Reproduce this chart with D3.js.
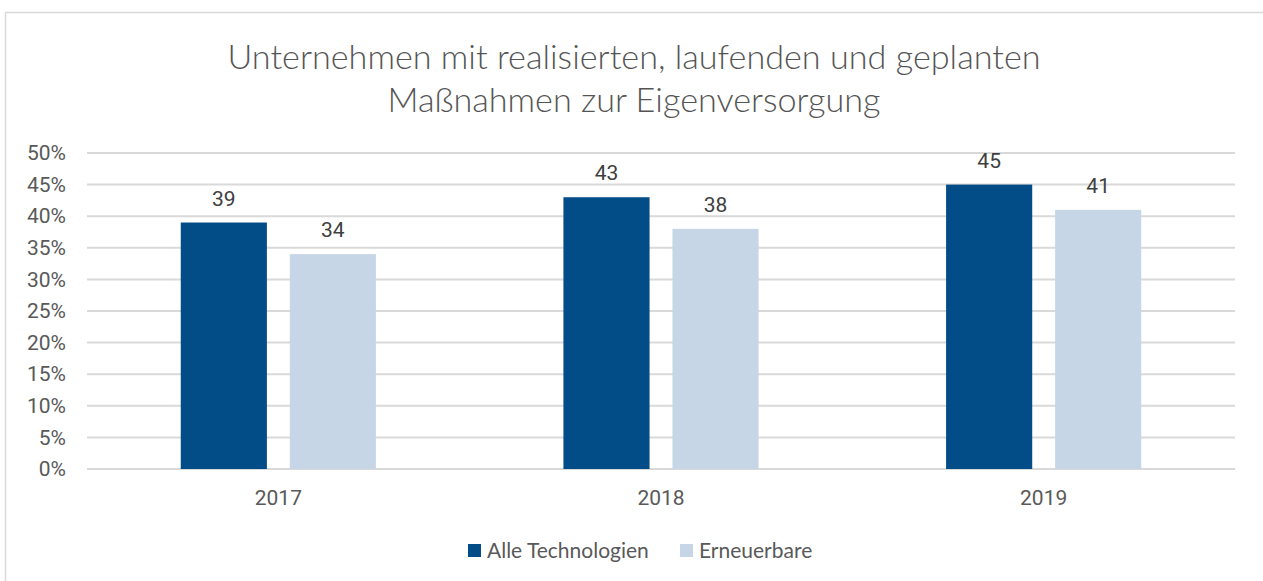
<!DOCTYPE html>
<html>
<head>
<meta charset="utf-8">
<title>Eigenversorgung</title>
<script src="https://d3js.org/d3.v7.min.js"></script>
<style>
body { margin:0; background:#fff; }
</style>
</head>
<body>
<div id="chart"></div>
<script>
// data
var years = ['2017', '2018', '2019'];
var seriesNames = ['Alle Technologien', 'Erneuerbare'];
var alleTech = [39, 43, 45];
var erneuerbare = [34, 38, 41];
var yTicks = [0, 5, 10, 15, 20, 25, 30, 35, 40, 45, 50];
var titleLines = ['Unternehmen mit realisierten, laufenden und geplanten', 'Maßnahmen zur Eigenversorgung'];

var colors = ['#024C88', '#C7D6E6'];
var width = 1263, height = 581;

var svg = d3.select('#chart').append('svg')
  .attr('width', width)
  .attr('height', height);

// chart frame
svg.append('rect')
  .attr('x', 5.5).attr('y', 12.5)
  .attr('width', 1262).attr('height', 600)
  .attr('fill', 'none')
  .attr('stroke', '#D9D9D9')
  .attr('stroke-width', 1.5);

// title
var title = svg.append('text')
  .attr('text-anchor', 'middle')
  .attr('fill', '#555555')
  .style('font-family', 'Lato, sans-serif')
  .style('font-weight', 300)
  .style('font-size', '34.2px');
title.selectAll('tspan').data(titleLines).enter().append('tspan')
  .attr('x', 634)
  .attr('y', function(d, i){ return 69 + i*43; })
  .text(function(d){ return d; });

var plot = {left: 87, right: 1235, top: 153, bottom: 469};

var y = d3.scaleLinear().domain([0, 50]).range([plot.bottom, plot.top]);
var x0 = d3.scaleBand().domain(years).range([plot.left, plot.right])
  .paddingInner(0.49).paddingOuter(0.245);
var x1 = d3.scaleBand().domain(seriesNames).range([0, x0.bandwidth()])
  .paddingInner(0.21);

// grid
svg.append('g').selectAll('line').data(yTicks).enter().append('line')
  .attr('x1', plot.left).attr('x2', plot.right)
  .attr('y1', function(d){ return y(d); })
  .attr('y2', function(d){ return y(d); })
  .attr('stroke', '#D9D9D9')
  .attr('stroke-width', 2);

// y axis labels
var yAxis = d3.axisLeft(y).tickValues(yTicks).tickSize(0).tickPadding(0)
  .tickFormat(function(d){ return d + '%'; });
var yg = svg.append('g').attr('transform', 'translate(66,0)').call(yAxis);
yg.select('.domain').remove();
yg.selectAll('text')
  .attr('fill', '#595959')
  .style('font-family', 'Roboto, sans-serif')
  .style('font-size', '21px');

// x axis labels
var xAxis = d3.axisBottom(x0).tickSize(0).tickPadding(0);
var xg = svg.append('g').attr('transform', 'translate(0,' + (plot.bottom + 21) + ')').call(xAxis);
xg.select('.domain').remove();
xg.selectAll('text')
  .attr('fill', '#595959')
  .style('font-family', 'Roboto, sans-serif')
  .style('font-size', '21px');

var rows = years.map(function(yr, i){
  return {year: yr, values: [
    {name: seriesNames[0], v: alleTech[i]},
    {name: seriesNames[1], v: erneuerbare[i]}
  ]};
});

var groups = svg.append('g').selectAll('g').data(rows).enter().append('g')
  .attr('transform', function(d){ return 'translate(' + x0(d.year) + ',0)'; });

groups.selectAll('rect').data(function(d){ return d.values; }).enter().append('rect')
  .attr('x', function(d){ return x1(d.name); })
  .attr('y', function(d){ return y(d.v); })
  .attr('width', x1.bandwidth())
  .attr('height', function(d){ return y(0) - y(d.v); })
  .attr('fill', function(d, i){ return colors[i]; });

groups.selectAll('text').data(function(d){ return d.values; }).enter().append('text')
  .attr('x', function(d){ return x1(d.name) + x1.bandwidth()/2; })
  .attr('y', function(d){ return y(d.v) - 17; })
  .attr('text-anchor', 'middle')
  .attr('fill', '#404040')
  .style('font-family', 'Roboto, sans-serif')
  .style('font-size', '21px')
  .text(function(d){ return d.v; });

// legend
var legendX = [468, 680];
var leg = svg.append('g').selectAll('g').data(seriesNames).enter().append('g')
  .attr('transform', function(d, i){ return 'translate(' + legendX[i] + ',544)'; });
leg.append('rect').attr('width', 13).attr('height', 13)
  .attr('fill', function(d, i){ return colors[i]; });
leg.append('text').attr('x', 19).attr('y', 14)
  .attr('fill', '#595959')
  .style('font-family', 'Lato, sans-serif')
  .style('font-size', '21px')
  .text(function(d){ return d; });
</script>
</body>
</html>
